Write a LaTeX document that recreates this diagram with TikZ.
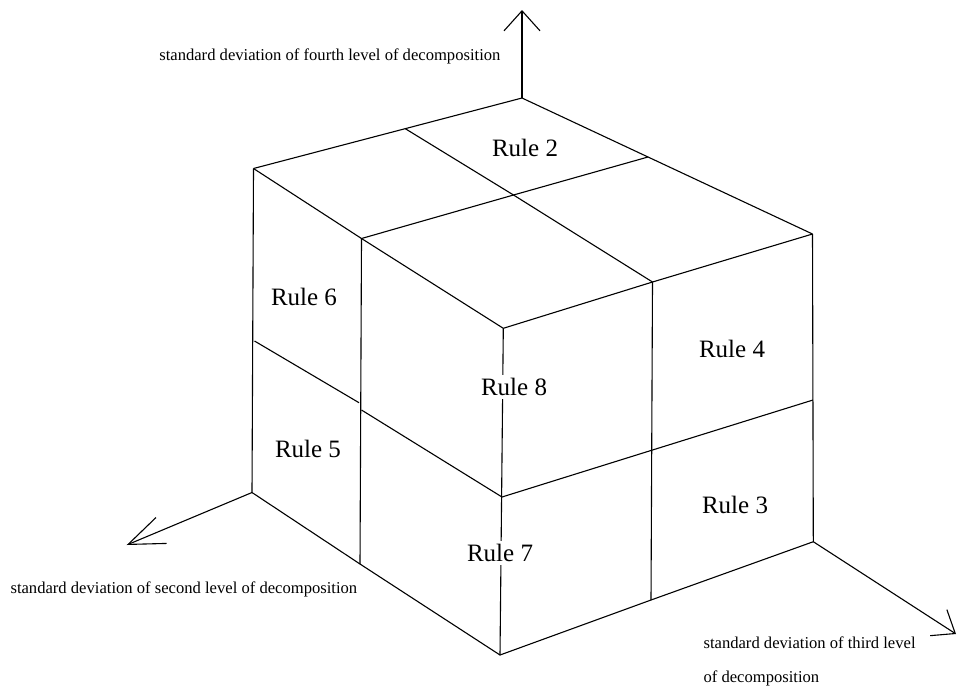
\documentclass[tikz,border=0pt]{standalone}
\usepackage{fontspec}
\setmainfont{Liberation Serif}
\usetikzlibrary{arrows.meta}
\tikzset{every picture/.style={line width=1.1pt}}
\tikzstyle{rulelbl}=[fill=white,inner sep=3pt,font=\fontsize{25}{30}\selectfont]
\tikzstyle{axlbl}=[inner sep=0pt,font=\fontsize{16.6}{34}\selectfont]

\begin{document}
\begin{tikzpicture}[x=1pt,y=-1pt]
\useasboundingbox (0,0) rectangle (957,689);
% top face
\coordinate (B) at (522,98);
\coordinate (TL) at (253.5,168.5);
\coordinate (TR) at (812.5,234);
\coordinate (TLm) at (405,128.5);
\coordinate (TRm) at (648,157);
\coordinate (C) at (513.5,195);
\coordinate (P) at (361.5,238.5);
\coordinate (Q) at (652.5,282);
\coordinate (F) at (503.3,328.3);
% middle
\coordinate (LM) at (254.5,341);
\coordinate (LMe) at (359,402.7);
\coordinate (M8) at (361.5,410);
\coordinate (G) at (502,497);
\coordinate (Q2) at (652.5,450);
\coordinate (RM) at (813,400);
% bottom
\coordinate (LB) at (252,492.5);
\coordinate (LBm) at (360,564);
\coordinate (FB) at (500,655);
\coordinate (RBm) at (651,600);
\coordinate (RB) at (813.3,541.7);
% axis ends
\coordinate (Z4) at (522,10);
\coordinate (Z2) at (126.7,545);
\coordinate (Z3) at (956,634);

\draw (TL) -- (B) -- (TR);
\draw (TL) -- (P) -- (F) -- (Q) -- (TR);
\draw (TLm) -- (C) -- (Q);
\draw (P) -- (C) -- (TRm);
\draw (TL) -- (LB) -- (LBm) -- (FB) -- (RBm) -- (RB) -- (TR);
\draw (P) -- (LBm);
\draw (Q) -- (RBm);
\draw (F) -- (FB);
\draw (LM) -- (LMe);
\draw (M8) -- (G) -- (Q2) -- (RM);

\draw[-{Straight Barb[length=20pt,width=36pt]}] (B) -- (Z4);
\draw[-{Straight Barb[length=36pt,width=28pt]}] (LB) -- (Z2);
\draw[-{Straight Barb[length=20pt,width=31pt]}] (RB) -- (Z3);

\node[rulelbl] (r2) at (525,148) {Rule 2};
\node[rulelbl] (r6) at (304,297) {Rule 6};
\node[rulelbl] (r4) at (732,349) {Rule 4};
\node[rulelbl] (r8) at (514,387) {Rule 8};
\node[rulelbl] (r5) at (308,449) {Rule 5};
\node[rulelbl] (r3) at (735,505) {Rule 3};
\node[rulelbl] (r7) at (500,553) {Rule 7};

\node[axlbl,anchor=base east] (ax4) at (501,60) {standard deviation of fourth level of decomposition};
\node[axlbl,anchor=base west] (ax2) at (10,593) {standard deviation of second level of decomposition};
\node[axlbl,anchor=base west,align=left] (ax3) at (703,682) {standard deviation of third level\\of decomposition};
\end{tikzpicture}
\end{document}
